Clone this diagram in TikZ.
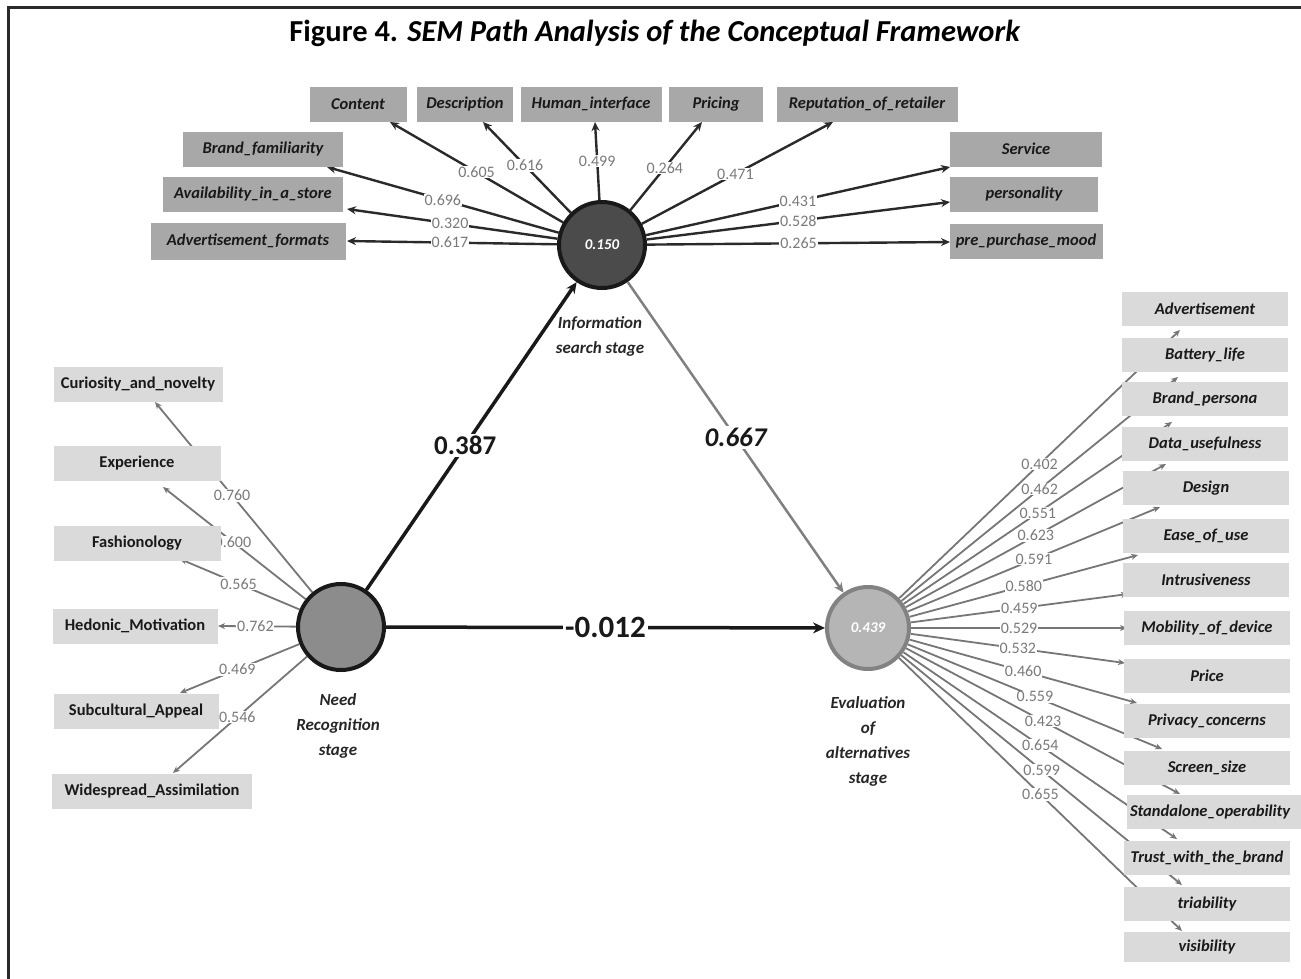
\documentclass[tikz,border=0pt]{standalone}
\usepackage{fontspec}
\setmainfont{Carlito}
\usetikzlibrary{arrows.meta}
\pgfdeclarelayer{bg}
\pgfsetlayers{bg,main}
\definecolor{topgray}{HTML}{A8A8A8}
\definecolor{lightbox}{HTML}{DADADA}
\definecolor{lblgray}{HTML}{7A7A7A}
\definecolor{linegray}{HTML}{767676}
\definecolor{darkline}{HTML}{2A2A2A}
\definecolor{infofill}{HTML}{4B4B4B}
\definecolor{needfill}{HTML}{8C8C8C}
\definecolor{evalfill}{HTML}{B5B5B5}
\definecolor{evaledge}{HTML}{828282}
\definecolor{frame}{HTML}{2B2B2B}
\begin{document}
\begin{tikzpicture}[x=1pt,y=-1pt,
  box/.style={rectangle, inner sep=0pt, minimum height=35pt, text=black!90},
  topbox/.style={box, fill=topgray, font=\fontsize{16.5}{18}\selectfont\bfseries\itshape},
  rbox/.style={box, fill=lightbox, minimum width=166pt, minimum height=34pt, font=\fontsize{16.5}{18}\selectfont\bfseries\itshape},
  lbox/.style={box, fill=lightbox, font=\fontsize{16.5}{18}\selectfont\bfseries},
  lab/.style={fill=white, inner sep=0.8pt, text=lblgray, font=\fontsize{16}{16}\selectfont},
  toparr/.style={draw=darkline, line width=2.4pt, -{Stealth[length=9pt,width=8pt]}},
  sidearr/.style={draw=linegray, line width=1.8pt, -{Stealth[length=7pt,width=6pt]}},
  latent/.style={circle, line width=4pt, inner sep=0pt, text=white!88, font=\fontsize{15}{15}\selectfont\bfseries\itshape},
  stagelab/.style={align=center, text=black!85, font=\fontsize{17}{25}\selectfont\bfseries\itshape},
  biglab/.style={fill=white, inner sep=2pt, text=black!90},
]
\useasboundingbox (0,0) rectangle (1301,978);
% frame
\draw[frame, line width=3pt] (8,980) -- (8,7) -- (1303,7);
% title
\node (title) at (655,33) {\fontsize{30.5}{34}\selectfont\bfseries Figure 4. \textit{SEM Path Analysis of the Conceptual Framework}};

% latent variables
\node[latent, fill=infofill, draw=black!90, minimum size=86pt] (info) at (602,245) {0.150};
\node[latent, fill=needfill, draw=black!90, minimum size=86pt] (need) at (341,627) {};
\node[latent, fill=evalfill, draw=evaledge, minimum size=82pt, text=white!80] (eval) at (868,628) {0.439};

\node[stagelab] (infolab) at (600,336) {Information\\search stage};
\node[stagelab] (needlab) at (338,726) {Need\\Recognition\\stage};
\node[stagelab] (evallab) at (868,741) {Evaluation\\of\\alternatives\\stage};

% top indicator boxes
\node[topbox, minimum width=97pt] (content) at (358,104) {Content};
\node[topbox, minimum width=96pt] (description) at (465,104) {Description};
\node[topbox, minimum width=141pt] (human) at (591,104) {Human\_interface};
\node[topbox, minimum width=94pt] (pricing) at (716,104) {Pricing};
\node[topbox, minimum width=181pt] (reputation) at (867,104) {Reputation\_of\_retailer};
\node[topbox, minimum width=160pt] (brandfam) at (263,149) {Brand\_familiarity};
\node[topbox, minimum width=180pt] (avail) at (253,194) {Availability\_in\_a\_store};
\node[topbox, minimum width=195pt, minimum height=37pt] (advfmt) at (248,241) {Advertisement\_formats};
\node[topbox, minimum width=152pt] (service) at (1026,149) {Service};
\node[topbox, minimum width=148pt] (personality) at (1024,194) {personality};
\node[topbox, minimum width=153pt] (prepurchase) at (1026,241) {pre\_purchase\_mood};

% left indicator boxes
\node[lbox, minimum width=169pt] (curiosity) at (138,384) {Curiosity\_and\_novelty};
\node[lbox, minimum width=167pt] (experience) at (137,463) {Experience};
\node[lbox, minimum width=167pt] (fashion) at (137,543) {Fashionology};
\node[lbox, minimum width=165pt] (hedonic) at (135,626) {Hedonic\_Motivation};
\node[lbox, minimum width=165pt] (subcult) at (136,711) {Subcultural\_Appeal};
\node[lbox, minimum width=200pt] (widespread) at (152,791) {Widespread\_Assimilation};

% right indicator boxes
\node[rbox] (advert) at (1205,309) {Advertisement};
\node[rbox] (battery) at (1205,355) {Battery\_life};
\node[rbox] (brandpers) at (1205,399) {Brand\_persona};
\node[rbox] (datause) at (1205,444) {Data\_usefulness};
\node[rbox] (design) at (1206,488) {Design};
\node[rbox] (ease) at (1206,536) {Ease\_of\_use};
\node[rbox] (intrus) at (1206,580) {Intrusiveness};
\node[rbox] (mobility) at (1207,628) {Mobility\_of\_device};
\node[rbox] (price) at (1207,676) {Price};
\node[rbox] (privacy) at (1207,721) {Privacy\_concerns};
\node[rbox] (screen) at (1207,768) {Screen\_size};
\node[rbox, minimum width=190pt, text width=184pt, align=left] (standalone) at (1222,812) {Standalone\_operability};
\node[rbox] (trust) at (1207,858) {Trust\_with\_the\_brand};
\node[rbox] (triab) at (1207,904) {triability};
\node[rbox, minimum height=30pt] (visib) at (1207,947) {visibility};

% arrow end points
\coordinate (tContent) at (390,122);
\coordinate (tDescr) at (483,122);
\coordinate (tHuman) at (595,122);
\coordinate (tPricing) at (702,122);
\coordinate (tRep) at (833,122);
\coordinate (tBrandFam) at (327,167);
\coordinate (tAvail) at (347,209);
\coordinate (tAdvFmt) at (347,241);
\coordinate (tService) at (950,167);
\coordinate (tPers) at (950,202);
\coordinate (tPre) at (950,242);

\coordinate (tCur) at (155,402);
\coordinate (tExp) at (163,487);
\coordinate (tFash) at (180,559);
\coordinate (tHed) at (218,626);
\coordinate (tSub) at (180,693);
\coordinate (tWide) at (173,773);

\coordinate (tAdvert) at (1180,330);
\coordinate (tBattery) at (1178,377);
\coordinate (tBrandP) at (1172,422);
\coordinate (tData) at (1166,464);
\coordinate (tDesign) at (1160,507);
\coordinate (tEase) at (1138,555);
\coordinate (tIntr) at (1128,594);
\coordinate (tMob) at (1127,628);
\coordinate (tPrice) at (1125,663);
\coordinate (tPriv) at (1137,703);
\coordinate (tScreen) at (1162,749);
\coordinate (tStand) at (1180,794);
\coordinate (tTrust) at (1177,839);
\coordinate (tTriab) at (1182,885);
\coordinate (tVisib) at (1182,931);

\begin{pgfonlayer}{bg}
% top loadings
\draw[toparr] (info) -- node[lab]{0.605} (tContent);
\draw[toparr] (info) -- node[lab, pos=0.52]{0.616} (tDescr);
\draw[toparr] (info) -- node[lab]{0.499} (tHuman);
\draw[toparr] (info) -- node[lab, pos=0.48]{0.264} (tPricing);
\draw[toparr] (info) -- node[lab, pos=0.49]{0.471} (tRep);
\draw[toparr] (info) -- node[lab]{0.696} (tBrandFam);
\draw[toparr] (info) -- node[lab, pos=0.51]{0.320} (tAvail);
\draw[toparr] (info) -- node[lab, pos=0.51]{0.617} (tAdvFmt);
\draw[toparr] (info) -- node[lab]{0.431} (tService);
\draw[toparr] (info) -- node[lab]{0.528} (tPers);
\draw[toparr] (info) -- node[lab]{0.265} (tPre);
% left loadings
\draw[sidearr] (need) -- node[lab, pos=0.51]{0.760} (tCur);
\draw[sidearr] (need) -- node[lab, pos=0.51]{0.600} (tExp);
\draw[sidearr] (need) -- node[lab, pos=0.51]{0.565} (tFash);
\draw[sidearr] (need) -- node[lab, pos=0.52]{0.762} (tHed);
\draw[sidearr] (need) -- node[lab, pos=0.52]{0.469} (tSub);
\draw[sidearr] (need) -- node[lab, pos=0.52]{0.546} (tWide);
% right loadings
\draw[sidearr] (eval) -- node[lab]{0.402} (tAdvert);
\draw[sidearr] (eval) -- node[lab]{0.462} (tBattery);
\draw[sidearr] (eval) -- node[lab]{0.551} (tBrandP);
\draw[sidearr] (eval) -- node[lab]{0.623} (tData);
\draw[sidearr] (eval) -- node[lab]{0.591} (tDesign);
\draw[sidearr] (eval) -- node[lab]{0.580} (tEase);
\draw[sidearr] (eval) -- node[lab]{0.459} (tIntr);
\draw[sidearr] (eval) -- node[lab]{0.529} (tMob);
\draw[sidearr] (eval) -- node[lab]{0.532} (tPrice);
\draw[sidearr] (eval) -- node[lab]{0.460} (tPriv);
\draw[sidearr] (eval) -- node[lab]{0.559} (tScreen);
\draw[sidearr] (eval) -- node[lab]{0.423} (tStand);
\draw[sidearr] (eval) -- node[lab]{0.654} (tTrust);
\draw[sidearr] (eval) -- node[lab]{0.599} (tTriab);
\draw[sidearr] (eval) -- node[lab]{0.655} (tVisib);
\end{pgfonlayer}

% structural paths
\draw[black!90, line width=3.5pt, -{Stealth[length=11pt,width=10pt]}] (need) -- node[biglab, pos=0.47, font=\fontsize{27}{27}\selectfont\bfseries]{0.387} (info);
\draw[black!50, line width=2.5pt, -{Stealth[length=10pt,width=9pt]}] (info) -- node[biglab, font=\fontsize{27}{27}\selectfont\bfseries\itshape]{0.667} (eval);
\draw[black!90, line width=3.5pt, -{Stealth[length=12pt,width=11pt]}] (need) -- node[biglab, font=\fontsize{31}{31}\selectfont\bfseries]{-0.012} (eval);
\end{tikzpicture}
\end{document}
